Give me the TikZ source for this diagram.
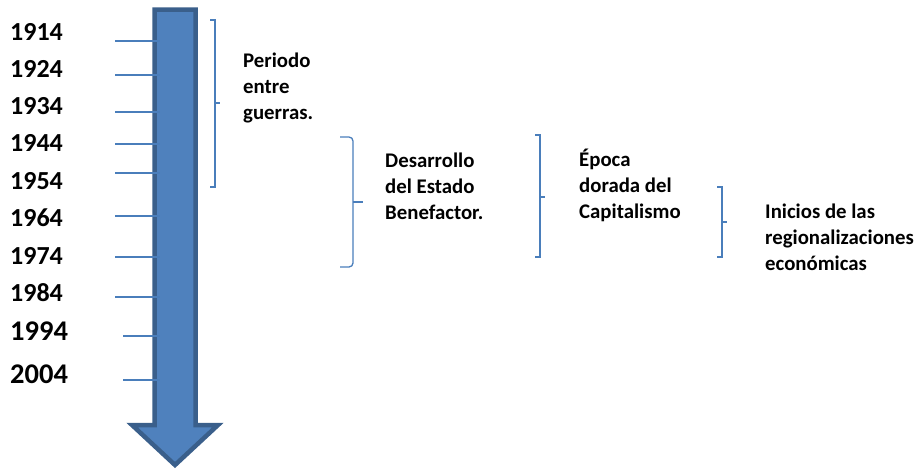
\documentclass[tikz,border=0pt]{standalone}
\usepackage{fontspec}
\setmainfont{Carlito}
\usetikzlibrary{positioning}
\definecolor{arrowblue}{HTML}{4F81BD}
\definecolor{arrowedge}{HTML}{3A5F8B}
\definecolor{lineblue}{HTML}{4A7EBB}

\begin{document}
\begin{tikzpicture}[x=1pt,y=-1pt,
        year/.style={anchor=west, inner sep=0pt, font=\bfseries\fontsize{26}{30}\selectfont},
        bigyear/.style={year, font=\bfseries\fontsize{28.5}{32}\selectfont},
        stagetext/.style={anchor=west, inner sep=0pt, align=left, font=\bfseries\fontsize{20.8}{26}\selectfont},
        tick/.style={lineblue, line width=1.2pt},
        bracket/.style={lineblue, line width=1.3pt}]
        \useasboundingbox (0,0) rectangle (919,472);

        % the big arrow
        \filldraw[fill=arrowblue, draw=arrowedge, line width=4.5pt, line join=miter]
              (154.5,9.5) -- (195.5,9.5) -- (195.5,425) -- (218,425)
              -- (175,465) -- (132,425) -- (154.5,425) -- cycle;

        % years and ticks
        \coordinate (T1914) at (115,41);
        \coordinate (T1924) at (115,75);
        \coordinate (T1934) at (115,112);
        \coordinate (T1944) at (115,144);
        \coordinate (T1954) at (115,173);
        \coordinate (T1964) at (115,216);
        \coordinate (T1974) at (115,257);
        \coordinate (T1984) at (115,297);
        \coordinate (T1994) at (123,336);
        \coordinate (T2004) at (123,380);

        \node[year] (Y1914) at (10,32) {1914};
        \node[year] (Y1924) at (10,69) {1924};
        \node[year] (Y1934) at (10,106) {1934};
        \node[year] (Y1944) at (10,143) {1944};
        \node[year] (Y1954) at (10,181) {1954};
        \node[year] (Y1964) at (10,218) {1964};
        \node[year] (Y1974) at (10,256) {1974};
        \node[year] (Y1984) at (10,293) {1984};
        \node[bigyear] (Y1994) at (10,331) {1994};
        \node[bigyear] (Y2004) at (10,374) {2004};

        \foreach \yr in {1914,1924,1934,1944,1954,1964,1974,1984,1994,2004}
            \draw[tick] (T\yr) -- (T\yr -| 160,0);

        % brackets
        \draw[bracket] (210,20) -| (215,187) -- (210,187);
        \draw[bracket] (215,103) -- (220,103);
        \draw[bracket, rounded corners=4pt] (340,137) -| (353,202) |- (340,267);
        \draw[bracket] (353,202) -- (363,202);
        \draw[bracket] (535,135) -| (540,257) -- (535,257);
        \draw[bracket] (540,197) -- (545,197);
        \draw[bracket] (717,187) -| (722,257) -- (717,257);
        \draw[bracket] (722,222) -- (727,222);

        % stages
        \node[stagetext] (periodo) at (243,88) {Periodo\\entre\\guerras.};
        \node[stagetext] (desarrollo) at (385,186) {Desarrollo\\del Estado\\Benefactor.};
        \node[stagetext] (epoca) at (579,185) {Época\\dorada del\\Capitalismo};
        \node[stagetext] (inicios) at (765,237) {Inicios de las\\regionalizaciones\\económicas};
    \end{tikzpicture}
\end{document}
